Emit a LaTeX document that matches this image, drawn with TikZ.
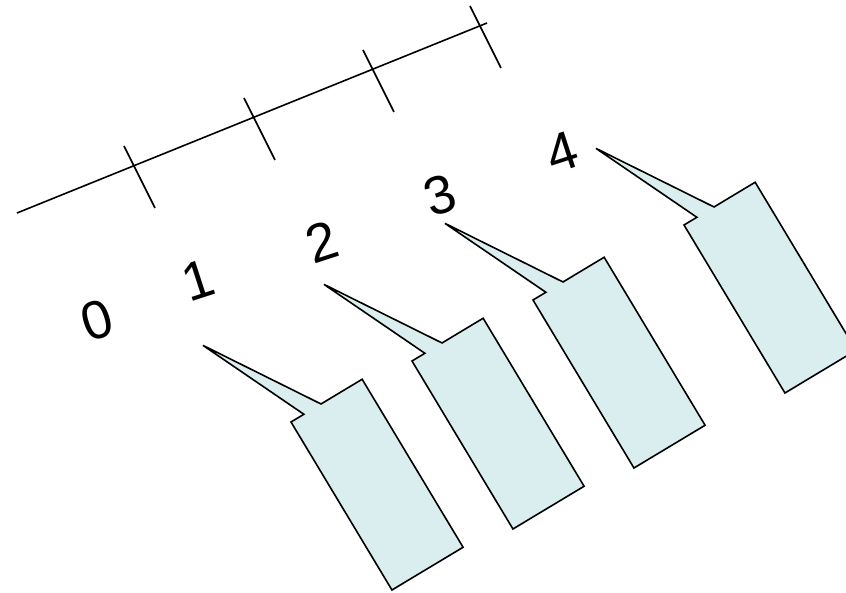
\documentclass[tikz,border=0pt]{standalone}
\usepackage{fontspec}
\setmainfont{Liberation Sans}
\usetikzlibrary{calc}

\definecolor{tagfill}{RGB}{218,238,239}

\tikzset{
    numlabel/.style={font=\fontsize{54}{56}\selectfont, rotate=18, inner sep=0pt},
    tag/.pic={
        \filldraw[fill=tagfill] (0,0) -- (15,0) -- (-36,111) -- (35,0) -- (83,0)
            -- (83,-196) -- (0,-196) -- cycle;
    }
}

\begin{document}
\begin{tikzpicture}[x=1pt, y=1pt, line width=1.6pt]
    \useasboundingbox (0,0) rectangle (846,592);
    \clip (0,0) rectangle (846,592);

    % Number line
    \coordinate (start) at (17,379);
    \coordinate (end) at (487,569);
    \coordinate (t1) at (134,427);
    \coordinate (t2) at (254,475);
    \coordinate (t3) at (373,523);
    \coordinate (t4) at (480,567);
    \draw (start) -- (end);
    \foreach \t in {t1,t2,t3,t4}
        \draw (\t) ++(-10,19) -- ++(31,-62);

    % Labels
    \node[numlabel] (n0) at (97,272) {0};
    \node[numlabel] (n1) at (198,312) {1};
    \node[numlabel] (n2) at (322,350) {2};
    \node[numlabel] (n3) at (440,397) {3};
    \node[numlabel] (n4) at (562,440) {4};

    % Callouts
    \pic[rotate=31] at (291,170) {tag};
    \pic[rotate=31] at (412,231) {tag};
    \pic[rotate=31] at (533,292) {tag};
    \pic[rotate=31] at (684,367) {tag};
\end{tikzpicture}
\end{document}
